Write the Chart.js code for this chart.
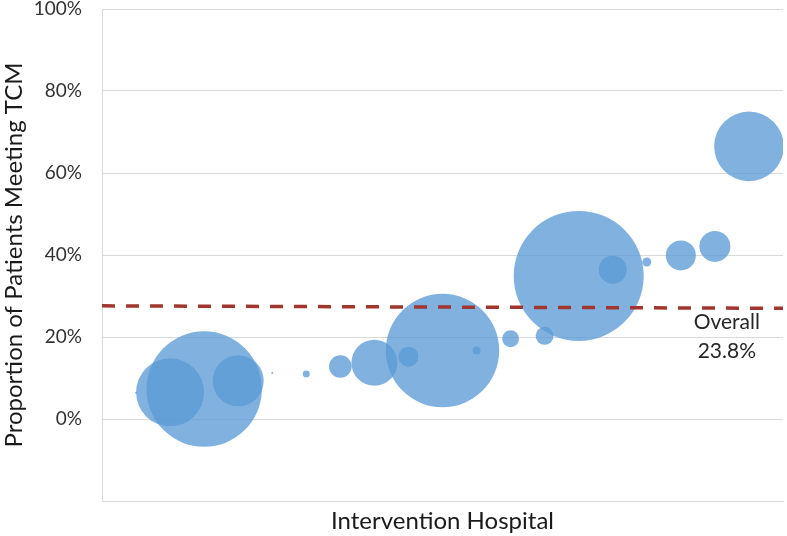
<!DOCTYPE html>
<html>
<head>
<meta charset="utf-8">
<script src="https://cdn.jsdelivr.net/npm/chart.js@4/dist/chart.umd.min.js"></script>
<style>
  body { margin: 0; background: #fff; }
  #wrap { width: 787px; height: 536px; }
</style>
</head>
<body>
<div id="wrap"><canvas id="bubble_chart"></canvas></div>
<script>
// hospitals are numbered 1..19 along the x axis
const hospitals = [1, 2, 3, 4, 5, 6, 7, 8, 9, 10, 11, 12, 13, 14, 15, 16, 17, 18, 19];
// proportion of patients meeting TCM (%)
const proportion = [6.4, 6.5, 7.3, 9.3, 11.2, 11.0, 12.8, 13.7, 15.2, 16.7, 16.7, 19.6, 20.3, 34.9, 36.4, 38.3, 39.9, 42.1, 66.5];
// bubble size (patients)
const patients = [1, 1156, 3330, 650, 1, 12, 128, 529, 100, 3215, 16, 72, 81, 4225, 196, 20, 225, 240, 1210];
// dashed overall line, start and end of the x range
const overallX = [0, 20];
const overallY = [27.6, 27.0];
const overallLabel = ["Overall", "23.8%"];
const yTicks = [-20, 0, 20, 40, 60, 80, 100];

let bubbles = hospitals.map((h, i) => ({ x: h, y: proportion[i], r: Math.sqrt(patients[i]) }));
let overall = overallX.map((x, i) => ({ x: x, y: overallY[i] }));

const labelPlugin = {
    id: "overallLabel",
    afterDatasetsDraw(chart) {
        let c = chart.ctx;
        let xs = chart.scales.x, ys = chart.scales.y;
        c.save();
        c.font = "21px Lato";
        c.fillStyle = "#262626";
        c.textAlign = "center";
        c.textBaseline = "middle";
        let px = xs.getPixelForValue(18.35);
        let py = ys.getPixelForValue(23.8);
        c.fillText(overallLabel[0], px, py + 1);
        c.fillText(overallLabel[1], px, py + 30);
        c.restore();
    }
};

let can = document.getElementById("bubble_chart");
let c = can.getContext('2d');
let chart = new Chart(c, {
    type: "bubble",
    data: {
        datasets: [{
            type: "line",
            data: overall,
            borderColor: "#a0362e",
            borderWidth: 3.5,
            borderDash: [13, 11],
            pointRadius: 0,
            fill: false,
            order: 0
        },
        {
            data: bubbles,
            backgroundColor: "rgba(91, 155, 213, 0.77)",
            borderWidth: 0,
            order: 1
        }]
    },
    options: {
        responsive: true,
        maintainAspectRatio: false,
        animation: false,
        layout: { autoPadding: false, padding: { top: 9, right: 4, left: 0, bottom: 0 } },
        plugins: { legend: { display: false }, tooltip: { enabled: false } },
        scales: {
            x: {
                type: "linear",
                min: 0,
                max: 20,
                ticks: { display: false },
                grid: { display: false },
                border: { display: true, color: "#d9d9d9", width: 1 },
                title: {
                    display: true,
                    text: "Intervention Hospital",
                    color: "#1a1a1a",
                    font: { family: "Lato", size: 24 },
                    padding: { top: 4, bottom: 0 }
                },
                afterFit(scale) { scale.height = 35; }
            },
            y: {
                min: -20,
                max: 100,
                afterBuildTicks(scale) { scale.ticks = yTicks.map(v => ({ value: v })); },
                ticks: {
                    padding: 20,
                    color: "#333333",
                    font: { family: "Lato", size: 19 },
                    callback: v => v < 0 ? "" : v + "%"
                },
                grid: { color: "#d9d9d9", drawTicks: false },
                border: { display: true, color: "#d9d9d9" },
                title: {
                    display: true,
                    text: "Proportion of Patients Meeting TCM",
                    color: "#1a1a1a",
                    font: { family: "Lato", size: 24 },
                    padding: { top: 0, bottom: 0 }
                },
                afterFit(scale) {
                    scale.width = 102;
                    scale.paddingTop = 0;
                    scale.paddingBottom = 0;
                }
            }
        }
    },
    plugins: [labelPlugin]
});
</script>
</body>
</html>
